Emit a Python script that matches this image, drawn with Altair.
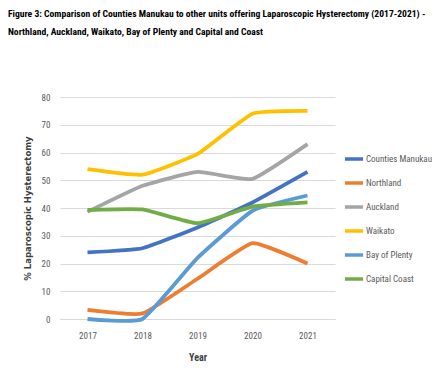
import altair as alt
import pandas as pd

years = ["2017", "2018", "2019", "2020", "2021"]
units = ["Counties Manukau", "Northland", "Auckland", "Waikato", "Bay of Plenty", "Capital Coast"]
colors = ["#4472C4", "#ED7D31", "#A5A5A5", "#FFC000", "#5B9BD5", "#70AD47"]

counties_manukau = [24, 25.5, 33, 42, 53]
northland = [3.3, 2, 14.5, 27.3, 20]
auckland = [38.6, 48, 53, 50.5, 63]
waikato = [54, 52, 59.5, 74, 75]
bay_of_plenty = [0, 0, 22, 39, 44.5]
capital_coast = [39.3, 39.5, 34.5, 40.5, 42]

series = [counties_manukau, northland, auckland, waikato, bay_of_plenty, capital_coast]
rows = []
for u, vals in zip(units, series):
    for y, v in zip(years, vals):
        rows.append({"Unit": u, "Year": y, "Value": v})
df = pd.DataFrame(rows)

FONT = "Liberation Sans Narrow, Roboto Condensed, Arial Narrow, sans-serif"

chart = alt.Chart(df).mark_line(interpolate="cardinal", tension=0.6, strokeWidth=3.8).encode(
    x=alt.X("Year:O", sort=years,
            scale=alt.Scale(type="point", padding=0.5),
            axis=alt.Axis(title="Year", labelAngle=0, ticks=False, domain=True,
                          domainColor="#D9D9D9", labelColor="#595959",
                          labelFontSize=9, labelPadding=12,
                          titleFontSize=10, titleColor="#404040", titleFontWeight="bold",
                          titlePadding=12, grid=False)),
    y=alt.Y("Value:Q", scale=alt.Scale(domain=[0, 80], nice=False),
            axis=alt.Axis(title="% Laparoscopic Hysterectomy", values=[0, 10, 20, 30, 40, 50, 60, 70, 80],
                          domain=False, ticks=False, gridColor="#D9D9D9",
                          labelColor="#595959", labelFontSize=9, labelPadding=10,
                          titleFont="DejaVu Sans", titleFontSize=8.5, titleColor="#404040",
                          titleFontWeight="bold", titlePadding=9)),
    color=alt.Color("Unit:N", sort=units,
                    scale=alt.Scale(domain=units, range=colors),
                    legend=alt.Legend(title=None, orient="none", legendX=283, legendY=51,
                                      symbolType="stroke", symbolStrokeWidth=3.5, symbolSize=330,
                                      labelFontSize=9, labelColor="#595959",
                                      rowPadding=6, labelOffset=1)),
).properties(
    width=275,
    height=222,
    autosize=alt.AutoSizeParams(type="none"),
    padding={"left": 52, "top": 89, "right": 101, "bottom": 59},
    title=alt.TitleParams(
        text=["Figure 3: Comparison of Counties Manukau to other units offering Laparoscopic Hysterectomy (2017-2021) -",
              "Northland, Auckland, Waikato, Bay of Plenty and Capital and Coast"],
        anchor="start", frame="group", dx=-52, offset=56, fontSize=9.6, fontWeight="bold",
        color="#000000", lineHeight=18, font=FONT),
).configure(font=FONT).configure_view(stroke=None).configure_axis(labelFont=FONT)

chart.save("out.html", embed_options={"renderer": "svg", "actions": False})
